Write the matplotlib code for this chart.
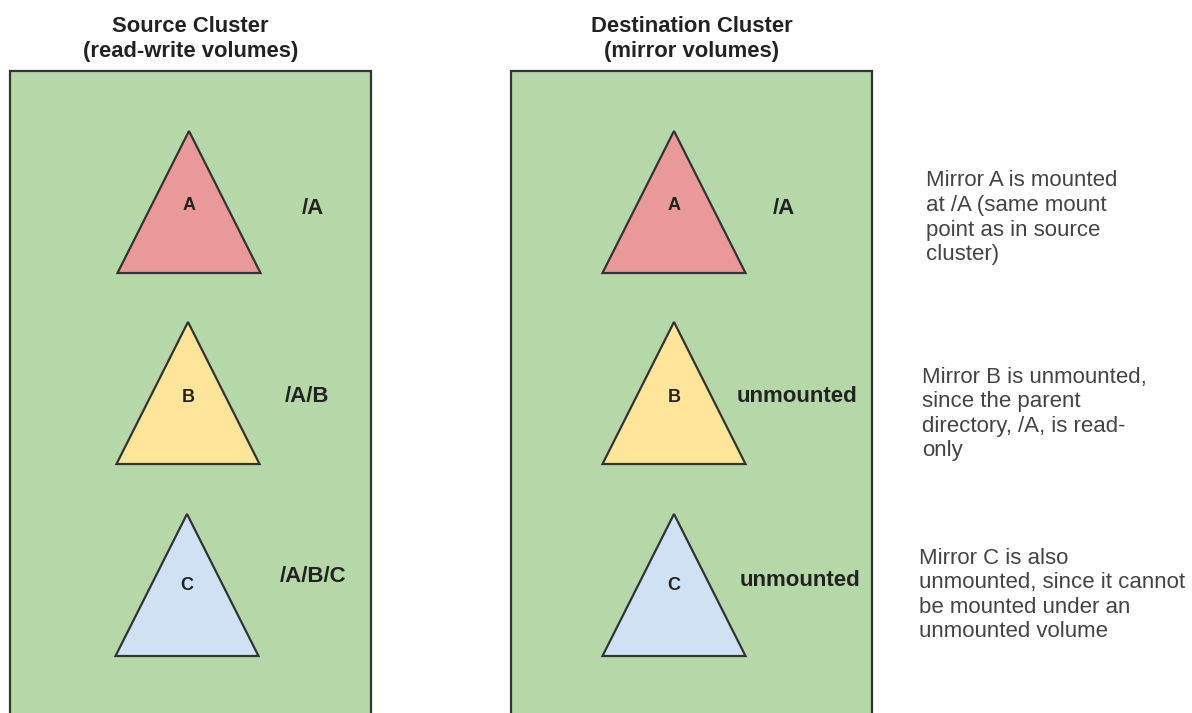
import matplotlib.pyplot as plt
from matplotlib.patches import Rectangle, Polygon

plt.rcParams['font.family'] = ['Liberation Sans', 'DejaVu Sans']

# diagram content
clusters = ['Source Cluster\n(read-write volumes)', 'Destination Cluster\n(mirror volumes)']
volumes = ['A', 'B', 'C']
fills = ['#ea9999', '#ffe599', '#cfe2f3']
source_paths = ['/A', '/A/B', '/A/B/C']
dest_paths = ['/A', 'unmounted', 'unmounted']
notes = [
    ['Mirror A is mounted', 'at /A (same mount', 'point as in source', 'cluster)'],
    ['Mirror B is unmounted,', 'since the parent', 'directory, /A, is read-', 'only'],
    ['Mirror C is also', 'unmounted, since it cannot', 'be mounted under an', 'unmounted volume'],
]

# layout (pixels)
W, H = 1192, 713
box_left = [10, 511]
box_w = 361
box_top = 71
tri_cx = [[189, 188, 187], [674, 674, 674]]
tri_top = [131, 322, 514]
tri_h = 142
tri_half = 71.5
path_x = [[313, 307, 313], [784, 797, 800]]
path_y = [[208, 397, 576], [208, 397, 581]]
letter_y = [206, 397, 586]
note_x = [926, 922, 919]
note_y0 = [181, 377, 558]
note_dy = 24.6

fig = plt.figure(figsize=(W / 100, H / 100), dpi=100)
ax = fig.add_axes([0, 0, 1, 1])
ax.set_xlim(0, W)
ax.set_ylim(H, 0)
ax.axis('off')

for c in range(2):
    x0 = box_left[c]
    ax.add_patch(Rectangle((x0, box_top), box_w, H + 20 - box_top,
                           facecolor='#b6d7a8', edgecolor='#333333', lw=1.6))
    title1, title2 = clusters[c].split('\n')
    cx = x0 + box_w / 2
    ax.text(cx, 26, title1, ha='center', va='center', fontsize=15.8,
            fontweight='bold', color='#222222')
    ax.text(cx, 51, title2, ha='center', va='center', fontsize=15.8,
            fontweight='bold', color='#222222')
    labels = source_paths if c == 0 else dest_paths
    for i, v in enumerate(volumes):
        x = tri_cx[c][i]
        y = tri_top[i]
        pts = [(x, y), (x - tri_half, y + tri_h), (x + tri_half, y + tri_h)]
        ax.add_patch(Polygon(pts, closed=True, facecolor=fills[i],
                             edgecolor='#333333', lw=1.6, joinstyle='miter'))
        ax.text(x, letter_y[i], v, ha='center', va='center', fontsize=13,
                fontweight='bold', color='#222222')
        ax.text(path_x[c][i], path_y[c][i], labels[i], ha='center', va='center',
                fontsize=16, fontweight='bold', color='#222222')

for i, lines in enumerate(notes):
    for k, line in enumerate(lines):
        ax.text(note_x[i], note_y0[i] + k * note_dy, line, ha='left',
                va='center', fontsize=16, color='#444444')

fig.savefig('out.png', dpi=100)
